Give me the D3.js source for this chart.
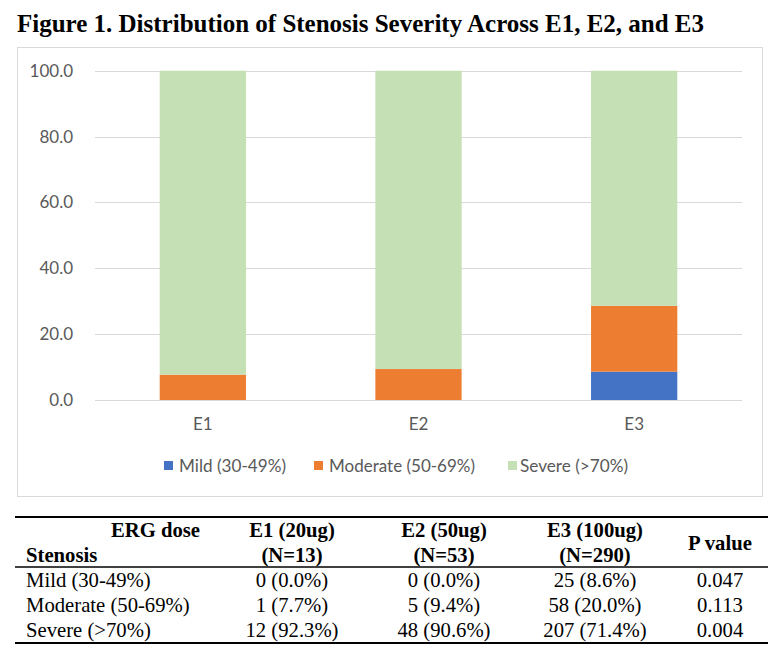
<!DOCTYPE html>
<html>
<head>
<meta charset="utf-8">
<script src="https://cdn.jsdelivr.net/npm/d3@7"></script>
<style>
  html, body { margin: 0; padding: 0; background: #fff; }
  svg { display: block; }
</style>
</head>
<body>
<svg id="chart" width="771" height="655"></svg>
<script>
// ---- Data ----
const groups = ["E1", "E2", "E3"];
const seriesNames = ["Mild (30-49%)", "Moderate (50-69%)", "Severe (>70%)"];
const mildPct = [0.0, 0.0, 8.6];
const moderatePct = [7.7, 9.4, 20.0];
const severePct = [92.3, 90.6, 71.4];
const mildN = [0, 0, 25];
const moderateN = [1, 5, 58];
const severeN = [12, 48, 207];
const yTicks = [0, 20, 40, 60, 80, 100];
const colHeaders = [["E1 (20ug)", "(N=13)"], ["E2 (50ug)", "(N=53)"], ["E3 (100ug)", "(N=290)"]];
const pValues = ["0.047", "0.113", "0.004"];
const titleText = "Figure 1. Distribution of Stenosis Severity Across E1, E2, and E3";

const colors = ["#4472C4", "#ED7D31", "#C5E0B4"];
const svg = d3.select("#chart");
const sans = "Lato, 'Open Sans', sans-serif";
const serif = "'Liberation Serif', 'Times New Roman', serif";

// Title
svg.append("text").attr("x", 17).attr("y", 32)
  .attr("font-family", serif).attr("font-weight", "bold").attr("font-size", 25)
  .attr("textLength", 687).attr("lengthAdjust", "spacingAndGlyphs")
  .attr("fill", "#000").text(titleText);

// Chart frame
svg.append("rect").attr("x", 17.5).attr("y", 47.5).attr("width", 745).attr("height", 449)
  .attr("fill", "#fff").attr("stroke", "#d9d9d9").attr("stroke-width", 1);

const x = d3.scaleBand().domain(groups).range([95, 742]).paddingInner(0.6).paddingOuter(0.3);
const y = d3.scaleLinear().domain([0, 100]).range([400, 70.7]);

// Gridlines
const g = svg.append("g");
g.selectAll("line.grid").data(yTicks).enter().append("line")
  .attr("x1", 95).attr("x2", 742)
  .attr("y1", d => Math.round(y(d)) + 0.5).attr("y2", d => Math.round(y(d)) + 0.5)
  .attr("stroke", "#d9d9d9").attr("stroke-width", 1);

// Y axis labels
const yAxis = d3.axisLeft(y).tickValues(yTicks).tickFormat(d3.format(".1f")).tickSize(0).tickPadding(0);
const ya = svg.append("g").attr("transform", "translate(73,0)").call(yAxis);
ya.select(".domain").remove();
ya.selectAll("text").attr("font-family", sans).attr("font-size", 17).attr("fill", "#595959");

// Stacked bars
const table = groups.map((grp, i) => ({ group: grp, mild: mildPct[i], moderate: moderatePct[i], severe: severePct[i] }));
const stack = d3.stack().keys(["mild", "moderate", "severe"]);
const stacked = stack(table);
svg.append("g").selectAll("g").data(stacked).enter().append("g")
  .attr("fill", (d, i) => colors[i])
  .selectAll("rect").data(d => d).enter().append("rect")
  .attr("x", d => x(d.data.group))
  .attr("width", x.bandwidth())
  .attr("y", d => y(Math.min(d[1], 100)))
  .attr("height", d => y(d[0]) - y(Math.min(d[1], 100)));

// X axis labels
const xAxis = d3.axisBottom(x).tickSize(0).tickPadding(0);
const xa = svg.append("g").attr("transform", "translate(0,418)").call(xAxis);
xa.select(".domain").remove();
xa.selectAll("text").attr("font-family", sans).attr("font-size", 17).attr("fill", "#595959");

// Legend
const legendItems = [
  { sq: 164, tx: 179, w: 107 },
  { sq: 314, tx: 329, w: 146 },
  { sq: 508, tx: 520, w: 108 }
];
const lg = svg.append("g");
seriesNames.forEach((name, i) => {
  lg.append("rect").attr("x", legendItems[i].sq).attr("y", 461).attr("width", 9).attr("height", 9).attr("fill", colors[i]);
  lg.append("text").attr("x", legendItems[i].tx).attr("y", 471.5)
    .attr("font-family", sans).attr("font-size", 17.5).attr("fill", "#595959")
    .attr("textLength", legendItems[i].w).attr("lengthAdjust", "spacingAndGlyphs")
    .text(name);
});

// ---- Table ----
const tg = svg.append("g").attr("font-family", serif).attr("font-size", 22).attr("fill", "#000");
tg.append("line").attr("x1", 15).attr("x2", 768).attr("y1", 517).attr("y2", 517).attr("stroke", "#000").attr("stroke-width", 2);
tg.append("line").attr("x1", 15).attr("x2", 768).attr("y1", 567).attr("y2", 567).attr("stroke", "#000").attr("stroke-width", 1.5);
tg.append("line").attr("x1", 15).attr("x2", 768).attr("y1", 643).attr("y2", 643).attr("stroke", "#000").attr("stroke-width", 2);

const squeeze = 0.94;
function tText(xp, yp, txt, anchor, bold) {
  const t = tg.append("text").attr("x", xp).attr("y", yp).attr("text-anchor", anchor || "start")
    .attr("font-weight", bold ? "bold" : "normal").text(txt);
  const len = t.node().getComputedTextLength();
  t.attr("textLength", len * squeeze).attr("lengthAdjust", "spacingAndGlyphs");
  return t;
}

tText(200, 537, "ERG dose", "end", true);
tText(26, 562, "Stenosis", "start", true);

const colCenters = [292, 444, 595];
colHeaders.forEach((h, i) => {
  tText(colCenters[i], 537, h[0], "middle", true);
  tText(colCenters[i], 562, h[1], "middle", true);
});
tText(720, 550, "P value", "middle", true);

const rowBase = [587, 612, 637];
const counts = [mildN, moderateN, severeN];
const pcts = [mildPct, moderatePct, severePct];
seriesNames.forEach((name, r) => {
  tText(26, rowBase[r], name, "start", false);
  groups.forEach((grp, c) => {
    tText(colCenters[c], rowBase[r], counts[r][c] + " (" + pcts[r][c].toFixed(1) + "%)", "middle", false);
  });
  tText(720, rowBase[r], pValues[r], "middle", false);
});
</script>
</body>
</html>
